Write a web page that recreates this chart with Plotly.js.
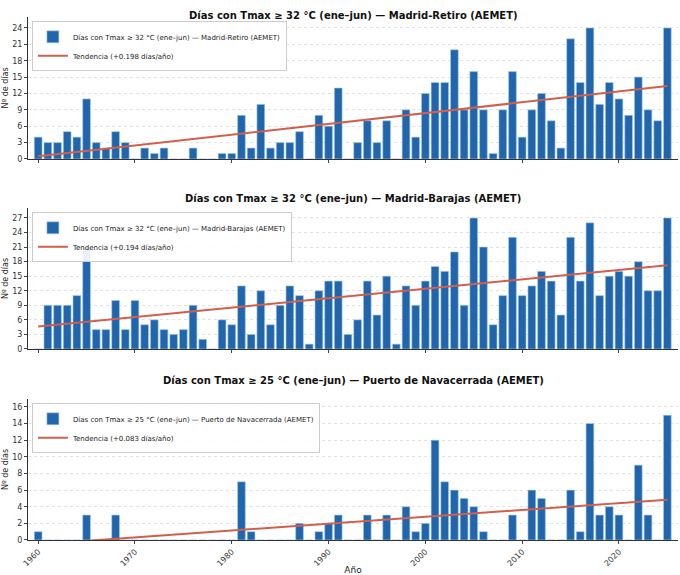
<!DOCTYPE html>
<html>
<head>
<meta charset="utf-8">
<script src="https://cdn.plot.ly/plotly-3.0.1.min.js"></script>
<style>body{margin:0}</style>
</head>
<body>
<div id="myDiv" style="width:680px;height:575px"></div>
<script>
// años 1960-2025
var years = [];
for (var y = 1960; y <= 2025; y++) years.push(y);

var retiro = [4,3,3,5,4,11,3,2,5,3, 0,2,1,2,0,0,2,0,0,1, 1,8,2,10,2,3,3,5,0,8, 6,13,0,3,7,3,7,0,9,4,
  12,14,14,20,9,16,9,1,9,16, 4,9,12,7,2,22,14,24,10,14, 11,8,15,9,7,24];
var barajas = [0,9,9,9,11,21,4,4,10,4, 10,5,6,4,3,4,9,2,0,6, 5,13,3,12,5,9,13,11,1,12, 14,14,3,6,14,7,15,1,13,9,
  14,17,16,20,9,27,21,5,11,23, 11,13,16,14,7,23,14,26,11,15, 16,15,18,12,12,27];
var navacerrada = [1,0,0,0,0,3,0,0,3,0, 0,0,0,0,0,0,0,0,0,0, 0,7,1,0,0,0,0,2,0,1, 2,3,0,0,3,0,3,0,4,1,
  2,12,7,6,5,4,1,0,0,3, 0,6,5,0,0,6,1,14,3,4, 3,0,9,3,0,15];

var names = ['Días con Tmax ≥ 32 °C (ene–jun) — Madrid-Retiro (AEMET)',
  'Días con Tmax ≥ 32 °C (ene–jun) — Madrid-Barajas (AEMET)',
  'Días con Tmax ≥ 25 °C (ene–jun) — Puerto de Navacerrada (AEMET)'];
var slopes = ['+0.198', '+0.194', '+0.083'];
var series = [retiro, barajas, navacerrada];

function fit(xs, ys) {
  var n = xs.length, mx = 0, my = 0;
  for (var i = 0; i < n; i++) { mx += xs[i]; my += ys[i]; }
  mx /= n; my /= n;
  var sxy = 0, sxx = 0;
  for (var i = 0; i < n; i++) { sxy += (xs[i]-mx)*(ys[i]-my); sxx += (xs[i]-mx)*(xs[i]-mx); }
  var b = sxy / sxx;
  return xs.map(function (x) { return my + b * (x - mx); });
}

var data = [];
series.forEach(function (s, k) {
  var ax = k === 0 ? '' : String(k + 1);
  var lg = k === 0 ? 'legend' : 'legend' + (k + 1);
  data.push({type: 'bar', x: years, y: s, name: names[k], xaxis: 'x' + ax, yaxis: 'y' + ax,
    legend: lg, width: 0.8, marker: {color: '#2166ac', line: {color: '#a6cbe8', width: 0.6}}});
  data.push({type: 'scatter', mode: 'lines', x: years, y: fit(years, s), name: 'Tendencia (' + slopes[k] + ' días/año)',
    xaxis: 'x' + ax, yaxis: 'y' + ax, legend: lg, line: {color: '#d0604c', width: 2}});
});

var doms = [[0.7056, 0.9685], [0.3537, 0.6148], [0, 0.2611]];
var ymax = [26, 29.05, 16.95];
var dt = [3, 3, 2];
var tfont = {family: 'DejaVu Sans', size: 8, color: '#333'};
var titleY = [0.985, 0.633, 0.2815];

var layout = {
  margin: {l: 28, r: 2, t: 0, b: 35},
  paper_bgcolor: 'white', plot_bgcolor: 'white',
  font: {family: 'DejaVu Sans', size: 8, color: '#222'},
  bargap: 0, showlegend: true, annotations: []
};
for (var k = 0; k < 3; k++) {
  var ax = k === 0 ? '' : String(k + 1);
  layout['xaxis' + ax] = {anchor: 'y' + ax, range: [1958.95, 2026.1], tickvals: [1960,1970,1980,1990,2000,2010,2020],
    showticklabels: k === 2, tickangle: -45, ticks: 'outside', ticklen: 3, showgrid: false,
    showline: true, linecolor: '#333', zeroline: false, tickfont: tfont,
    title: k === 2 ? {text: 'Año', font: {size: 9}, standoff: 4} : undefined};
  layout['yaxis' + ax] = {anchor: 'x' + ax, domain: doms[k], range: [0, ymax[k]], dtick: dt[k],
    ticks: 'outside', ticklen: 3, showline: true, linecolor: '#333', zeroline: false,
    gridcolor: '#e2e2e2', griddash: 'dot', tickfont: tfont,
    title: {text: 'Nº de días', font: {size: 8}, standoff: 2}};
  layout[k === 0 ? 'legend' : 'legend' + (k + 1)] = {x: 0.006, y: doms[k][1] - 0.008, xanchor: 'left', yanchor: 'top',
    bgcolor: 'rgba(255,255,255,0.9)', bordercolor: '#cccccc', borderwidth: 1, font: {size: 7}, itemwidth: 30, tracegroupgap: 0};
  layout.annotations.push({text: '<b>' + names[k] + '</b>',
    xref: 'paper', yref: 'paper', x: 0.5, y: titleY[k], showarrow: false, font: {size: 10, color: '#111'}});
}

Plotly.newPlot('myDiv', data, layout, {staticPlot: true});
</script>
</body>
</html>
